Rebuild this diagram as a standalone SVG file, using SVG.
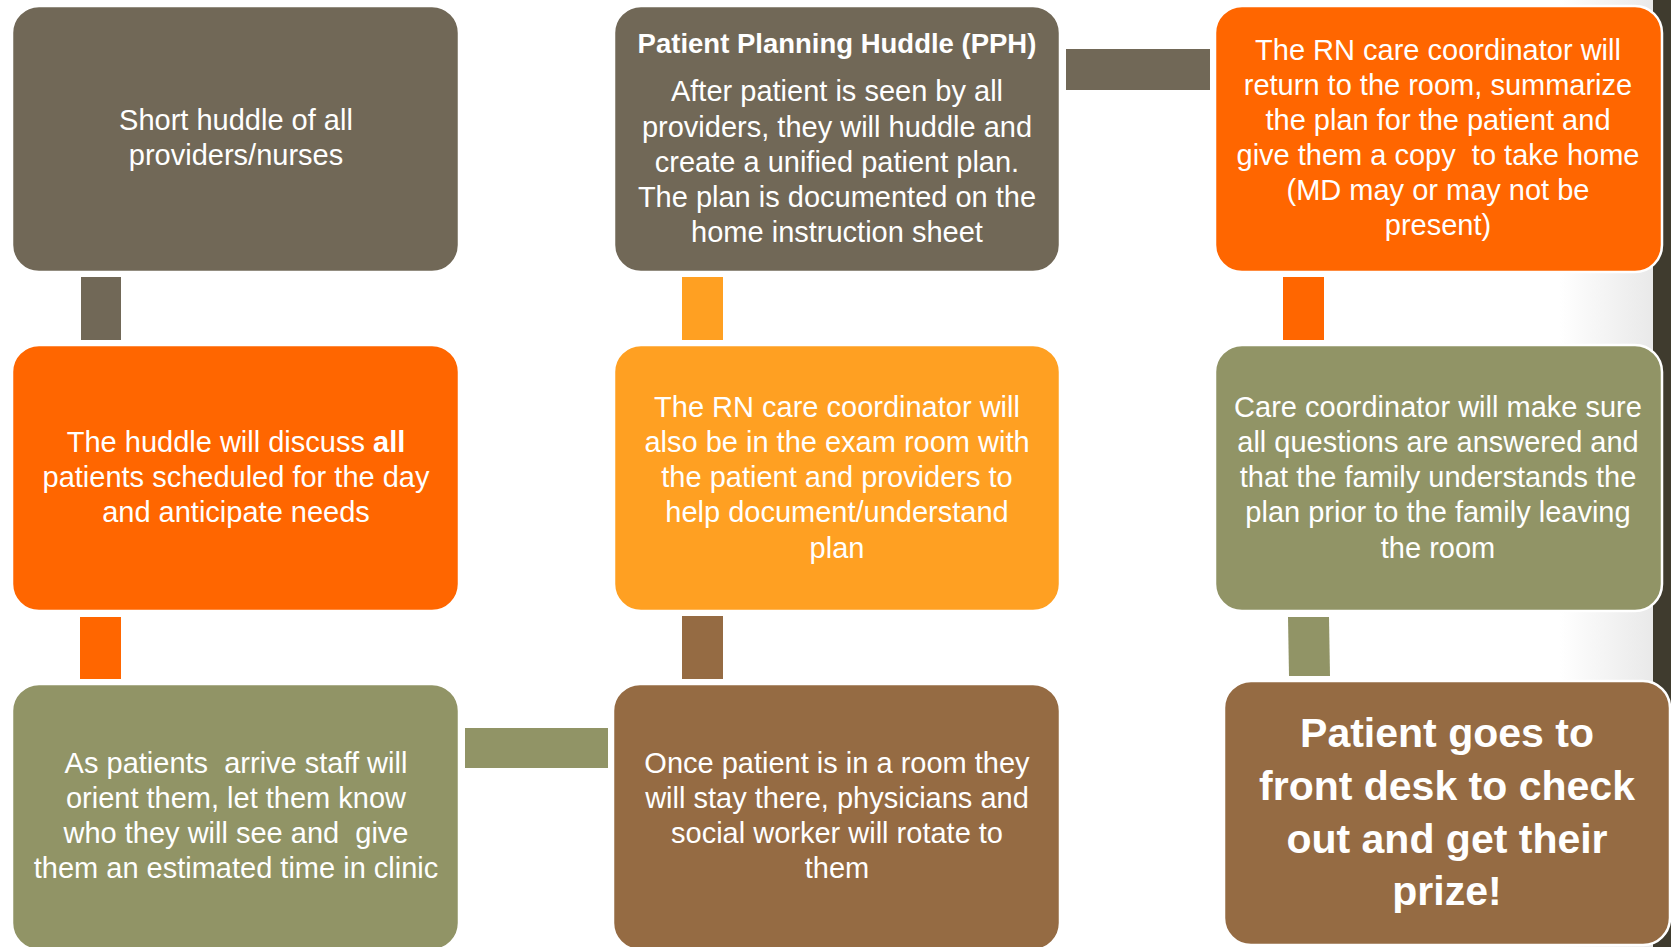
<svg xmlns="http://www.w3.org/2000/svg" width="1671" height="947" viewBox="0 0 1671 947">
<defs>
<linearGradient id="shade" x1="0" y1="0" x2="1" y2="0">
<stop offset="0" stop-color="#ffffff"/>
<stop offset="1" stop-color="#e9e9e9"/>
</linearGradient>
<style>
.box{stroke:#ffffff;stroke-width:2.5}
.taupe{fill:#716857}
.orange{fill:#ff6600}
.lorange{fill:#ffa022}
.olive{fill:#919466}
.brown{fill:#956b43}
text{font-family:"Liberation Sans",Arial,sans-serif;fill:#ffffff;text-anchor:middle;white-space:pre}
.t{font-size:29px}
.hb{font-size:27.5px;font-weight:bold}
.big{font-size:41px;font-weight:bold}
</style>
</defs>
<rect x="0" y="0" width="1671" height="947" fill="#ffffff"/>
<rect x="1560" y="0" width="93" height="947" fill="url(#shade)"/>
<rect x="1653" y="0" width="18" height="947" fill="#3f3b2e"/>
<g id="connectors">
<rect class="taupe" x="1066" y="49" width="144" height="41"/>
<rect class="taupe" x="81" y="277" width="40" height="63"/>
<rect class="lorange" x="682" y="277" width="41" height="63"/>
<rect class="orange" x="1283" y="277" width="41" height="63"/>
<rect class="orange" x="80" y="617" width="41" height="62"/>
<rect class="brown" x="682" y="616" width="41" height="63"/>
<polygon class="olive" points="1288,617 1329,617 1330,676 1289,676"/>
<rect class="olive" x="465" y="728" width="143" height="40"/>
</g>
<g id="n1">
<rect class="box taupe" x="12" y="6" width="447" height="266" rx="27"/>
<text class="t" x="236" y="130">Short huddle of all</text>
<text class="t" x="236" y="165">providers/nurses</text>
</g>
<g id="n2">
<rect class="box taupe" x="614" y="6" width="446" height="266" rx="27"/>
<text class="hb" x="837" y="53">Patient Planning Huddle (PPH)</text>
<text class="t" x="837" y="101">After patient is seen by all</text>
<text class="t" x="837" y="137">providers, they will huddle and</text>
<text class="t" x="837" y="172">create a unified patient plan.</text>
<text class="t" x="837" y="207">The plan is documented on the</text>
<text class="t" x="837" y="242">home instruction sheet</text>
</g>
<g id="n3">
<rect class="box orange" x="1215" y="6" width="447" height="266" rx="27"/>
<text class="t" x="1438" y="60">The RN care coordinator will</text>
<text class="t" x="1438" y="95">return to the room, summarize</text>
<text class="t" x="1438" y="130">the plan for the patient and</text>
<text class="t" x="1438" y="165" xml:space="preserve">give them a copy  to take home</text>
<text class="t" x="1438" y="200">(MD may or may not be</text>
<text class="t" x="1438" y="235">present)</text>
</g>
<g id="n4">
<rect class="box orange" x="12" y="345" width="447" height="266" rx="27"/>
<text class="t" x="236" y="452">The huddle will discuss <tspan font-weight="bold">all</tspan></text>
<text class="t" x="236" y="487">patients scheduled for the day</text>
<text class="t" x="236" y="522">and anticipate needs</text>
</g>
<g id="n5">
<rect class="box lorange" x="614" y="345" width="446" height="266" rx="27"/>
<text class="t" x="837" y="417">The RN care coordinator will</text>
<text class="t" x="837" y="452">also be in the exam room with</text>
<text class="t" x="837" y="487">the patient and providers to</text>
<text class="t" x="837" y="522">help document/understand</text>
<text class="t" x="837" y="558">plan</text>
</g>
<g id="n6">
<rect class="box olive" x="1215" y="345" width="447" height="266" rx="27"/>
<text class="t" x="1438" y="417">Care coordinator will make sure</text>
<text class="t" x="1438" y="452">all questions are answered and</text>
<text class="t" x="1438" y="487">that the family understands the</text>
<text class="t" x="1438" y="522">plan prior to the family leaving</text>
<text class="t" x="1438" y="558">the room</text>
</g>
<g id="n7">
<rect class="box olive" x="12" y="684" width="447" height="266" rx="27"/>
<text class="t" x="236" y="773" xml:space="preserve">As patients  arrive staff will</text>
<text class="t" x="236" y="808">orient them, let them know</text>
<text class="t" x="236" y="843" xml:space="preserve">who they will see and  give</text>
<text class="t" x="236" y="878">them an estimated time in clinic</text>
</g>
<g id="n8">
<rect class="box brown" x="613" y="684" width="447" height="266" rx="27"/>
<text class="t" x="837" y="773">Once patient is in a room they</text>
<text class="t" x="837" y="808">will stay there, physicians and</text>
<text class="t" x="837" y="843">social worker will rotate to</text>
<text class="t" x="837" y="878">them</text>
</g>
<g id="n9">
<rect class="box brown" x="1224" y="681" width="446" height="264" rx="27"/>
<text class="big" x="1447" y="747">Patient goes to</text>
<text class="big" x="1447" y="800">front desk to check</text>
<text class="big" x="1447" y="853">out and get their</text>
<text class="big" x="1447" y="905">prize!</text>
</g>
</svg>
